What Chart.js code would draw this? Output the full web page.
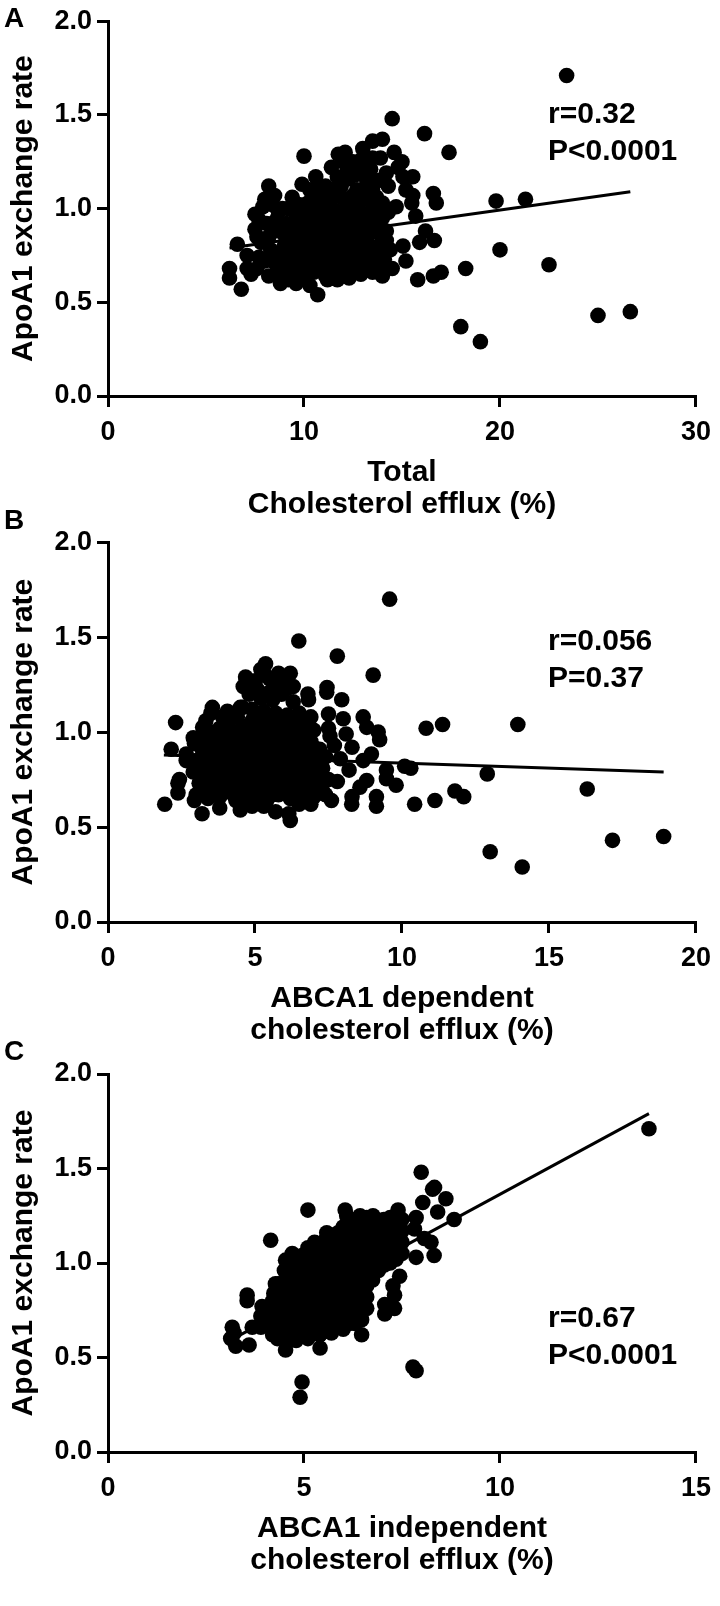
<!DOCTYPE html>
<html>
<head>
<meta charset="utf-8">
<title>ApoA1 exchange rate vs cholesterol efflux</title>
<script src="https://cdn.jsdelivr.net/npm/chart.js@4.4.1/dist/chart.umd.min.js"></script>
<style>
  html, body { margin: 0; padding: 0; background: #fff; }
  body { position: relative; width: 720px; height: 1606px; overflow: hidden;
         font-family: "Liberation Sans", Arial, Helvetica, sans-serif; font-weight: bold; color: #000; }
  canvas { position: absolute; left: 0; }
  .panel-letter { position: absolute; left: 4px; font-size: 28px; line-height: 28px; }
  .stats { position: absolute; left: 548px; font-size: 30px; line-height: 37px; white-space: nowrap; }
</style>
</head>
<body>
<canvas id="chartA"></canvas>
<canvas id="chartB"></canvas>
<canvas id="chartC"></canvas>
<div class="panel-letter" style="top:4px">A</div>
<div class="panel-letter" style="top:506px">B</div>
<div class="panel-letter" style="top:1037px">C</div>
<div class="stats" id="statsA" style="top:94px"></div>
<div class="stats" id="statsB" style="top:621px"></div>
<div class="stats" id="statsC" style="top:1298px"></div>
<script>
// Three stacked scatter panels: ApoA1 exchange rate against cholesterol efflux.

const yTicks = [0, 0.5, 1.0, 1.5, 2.0];
const xTicksA = [0, 10, 20, 30];
const xTicksB = [0, 5, 10, 15, 20];
const xTicksC = [0, 5, 10, 15];

const yTitle = 'ApoA1 exchange rate';
const xTitleA = ['Total', 'Cholesterol efflux (%)'];
const xTitleB = ['ABCA1 dependent', 'cholesterol efflux (%)'];
const xTitleC = ['ABCA1 independent', 'cholesterol efflux (%)'];

const statsA = ['r=0.32', 'P<0.0001'];
const statsB = ['r=0.056', 'P=0.37'];
const statsC = ['r=0.67', 'P<0.0001'];

// [total efflux %, exchange rate]
const totalEffluxPts = [
  [6.2,0.68],[6.2,0.63],[6.8,0.57],[6.6,0.81],[7.1,0.75],[7.5,0.97],[8.0,1.05],[8.2,1.12],[7.5,0.89],
  [7.1,0.68],[7.3,0.65],[8.2,0.64],[9.4,1.06],[9.9,1.13],[10.0,1.28],[10.6,1.17],[10.7,1.06],[9.2,0.62],
  [10.3,0.59],[10.7,0.54],[11.2,0.62],[11.4,1.22],[11.75,1.29],[12.1,1.30],[11.4,1.07],[12.4,0.68],
  [14.5,1.48],[16.15,1.40],[17.4,1.30],[13.5,1.36],[14.0,1.37],[13.9,1.27],[14.6,1.30],[15.0,1.25],
  [14.8,1.22],[15.55,1.17],[15.05,1.17],[15.2,1.10],[15.55,1.07],[15.5,1.03],[16.6,1.08],[16.75,1.03],
  [14.0,1.03],[14.7,1.01],[15.7,0.96],[16.2,0.88],[16.65,0.83],[15.9,0.82],[15.05,0.80],[15.2,0.72],
  [14.1,0.73],[15.8,0.62],[16.6,0.64],[17.0,0.66],[18.25,0.68],[19.8,1.04],[21.3,1.05],[20.0,0.78],
  [22.5,0.70],[23.4,1.71],[18.0,0.37],[19.0,0.29],[25.0,0.43],[26.65,0.45],[13.1,0.85],[13.45,0.75],
  [13.1,0.68],[7.6,0.85],[7.7,0.94],[7.9,1.01],
  [12.5,1.25],[12.9,1.20],[13.2,1.15],[12.3,1.16],[11.9,1.12],[12.7,1.10],[13.5,1.10],[13.8,1.15],
  [14.3,1.12],[14.2,1.19],[13.0,1.27],[12.2,1.22],[11.1,1.12],[10.3,1.10],[9.8,1.02],[10.2,1.03],
  [8.1,0.92],[8.5,0.88],[8.7,0.98],[8.3,0.78],[8.0,0.72],[8.8,0.70],[8.6,0.66],[9.0,0.80],[9.1,0.92],
  [8.9,1.00],[7.8,0.82],[7.7,0.74],[7.6,0.68],
  [9.3,0.65],[9.9,0.63],[10.5,0.66],[11.1,0.64],[11.7,0.62],[12.3,0.63],[12.9,0.65],[13.5,0.66],
  [9.4,0.71],[10.0,0.70],[10.6,0.72],[11.2,0.69],[11.8,0.71],[12.4,0.72],[13.0,0.70],[13.7,0.69],
  [9.2,0.77],[9.8,0.76],[10.4,0.78],[11.0,0.75],[11.6,0.77],[12.2,0.76],[12.8,0.78],[13.4,0.79],
  [9.5,0.83],[10.1,0.82],[10.7,0.84],[11.3,0.81],[11.9,0.83],[12.5,0.82],[13.2,0.84],[13.9,0.81],
  [9.3,0.89],[9.9,0.88],[10.5,0.90],[11.1,0.87],[11.7,0.89],[12.3,0.88],[12.9,0.90],[13.6,0.91],
  [9.6,0.95],[10.2,0.94],[10.8,0.96],[11.4,0.93],[12.0,0.95],[12.6,0.96],[13.3,0.97],[14.0,0.95],
  [10.4,1.00],[11.0,1.01],[11.6,0.99],[12.2,1.02],[12.8,1.03],[13.4,1.04],
  [14.2,0.88],[14.4,0.78],[14.5,0.68],[14.0,0.64],
  [9.6,0.68],[10.2,0.67],[10.8,0.69],[11.4,0.68],[12.0,0.67],[12.6,0.69],[13.2,0.68],
  [9.6,0.74],[10.2,0.73],[10.8,0.75],[11.4,0.74],[12.0,0.73],[12.6,0.75],[13.2,0.74],
  [9.6,0.80],[10.2,0.79],[10.8,0.81],[11.4,0.80],[12.0,0.79],[12.6,0.81],[13.2,0.80],
  [9.6,0.86],[10.2,0.85],[10.8,0.87],[11.4,0.86],[12.0,0.85],[12.6,0.87],[13.2,0.86],
  [9.6,0.92],[10.2,0.91],[10.8,0.93],[11.4,0.92],[12.0,0.91],[12.6,0.93],[13.2,0.92],
  [9.9,0.98],[10.5,0.97],[11.1,0.98],[11.7,0.96],[12.3,0.99],[12.9,0.98],[13.6,1.00],
  [13.9,0.75],[14.2,0.83],[13.8,0.87],[14.3,0.98],[13.9,0.70],
  [8.4,0.72],[8.2,0.85],[8.6,0.94],[9.0,0.86],[8.9,0.75],[8.4,1.02],[9.2,1.00],[8.5,1.07],[9.5,1.00],
  [9.0,0.64],[8.8,0.60],[9.6,0.60],
  [11.3,1.04],[11.9,1.06],[12.5,1.07],[13.1,1.08],[13.7,1.06],[11.7,1.17],[12.6,1.18],[13.4,1.21],
  [12.8,1.25],[11.5,1.10],[10.7,1.11],[10.9,1.00],[12.0,1.25],[13.5,1.27],[13.0,1.32],
];

// [ABCA1 dependent efflux %, exchange rate]
const abca1DepPts = [
  [1.93,0.62],[2.3,1.05],[2.15,0.91],[2.66,0.885],[2.9,0.97],[2.43,0.75],[2.38,0.68],[3.2,0.57],
  [2.94,0.64],[3.33,1.06],[3.55,1.13],[4.06,1.11],[4.57,1.13],[4.68,1.29],[5.0,1.27],[5.36,1.36],
  [6.2,1.31],[6.49,1.48],[7.8,1.40],[7.45,1.235],[7.95,1.17],[6.8,1.20],[6.15,0.57],[6.2,0.535],
  [3.45,0.66],[4.35,0.64],[4.9,0.61],[6.5,0.62],[8.3,0.66],[7.3,0.69],[7.5,1.02],
  [9.58,1.70],[9.02,1.30],[8.68,1.08],[8.8,1.025],[9.19,1.0],[9.24,0.96],[10.82,1.02],[11.38,1.04],
  [13.94,1.04],[8.96,0.885],[8.68,0.85],[9.47,0.80],[10.09,0.82],[10.3,0.81],[8.8,0.745],[8.57,0.71],
  [9.8,0.72],[9.13,0.66],[10.43,0.62],[11.12,0.64],[11.8,0.69],[12.1,0.66],[12.9,0.78],[16.3,0.70],
  [13.0,0.37],[14.09,0.29],[17.16,0.43],[18.9,0.45],
  [6.82,1.17],[7.44,1.21],[3.5,1.10],[3.22,1.025],[2.94,0.94],[2.66,0.85],[7.5,1.095],[8.0,1.07],
  [7.55,0.98],[9.47,0.755],[9.13,0.61],[8.29,0.62],[2.38,0.73],
  [4.7,1.28],[5.0,1.25],[5.35,1.30],[5.7,1.26],[6.0,1.28],[6.3,1.24],[5.2,1.18],[5.6,1.17],[5.9,1.20],
  [6.3,1.16],[4.8,1.20],[4.5,1.13],[4.9,1.12],[5.3,1.11],[5.7,1.10],[6.1,1.09],[6.5,1.10],[6.9,1.08],
  [4.1,1.05],[3.8,1.02],[3.5,1.00],
  [3.8,0.60],[4.5,0.59],[5.3,0.61],[5.7,0.58],[6.9,0.62],[7.6,0.64],
  [7.8,0.74],[8.2,0.80],[7.9,0.86],[8.3,0.92],[7.7,0.93],[8.1,0.99],
  [3.0,0.67],[3.4,0.65],[3.8,0.66],[4.2,0.68],[4.6,0.65],[5.0,0.66],[5.4,0.64],[5.8,0.67],[6.2,0.65],
  [6.6,0.68],[7.0,0.66],[7.4,0.67],
  [3.1,0.73],[3.5,0.71],[3.9,0.72],[4.3,0.74],[4.7,0.71],[5.1,0.73],[5.5,0.70],[5.9,0.72],[6.3,0.74],
  [6.7,0.71],[7.1,0.73],[7.5,0.75],
  [2.9,0.79],[3.3,0.77],[3.7,0.78],[4.1,0.80],[4.5,0.77],[4.9,0.79],[5.3,0.76],[5.7,0.78],[6.1,0.80],
  [6.5,0.77],[6.9,0.79],[7.3,0.81],
  [3.0,0.85],[3.4,0.83],[3.8,0.84],[4.2,0.86],[4.6,0.83],[5.0,0.85],[5.4,0.82],[5.8,0.84],[6.2,0.86],
  [6.6,0.83],[7.0,0.85],[7.4,0.87],
  [3.2,0.91],[3.6,0.89],[4.0,0.90],[4.4,0.92],[4.8,0.89],[5.2,0.91],[5.6,0.88],[6.0,0.90],[6.4,0.92],
  [6.8,0.89],[7.2,0.91],
  [3.3,0.97],[3.7,0.95],[4.1,0.96],[4.5,0.98],[4.9,0.95],[5.3,0.97],[5.7,0.94],[6.1,0.96],[6.5,0.98],
  [6.9,0.95],
  [4.6,1.03],[5.0,1.01],[5.4,1.04],[5.8,1.00],[6.2,1.02],[6.6,1.04],[7.0,1.01],
  [3.2,0.69],[3.6,0.68],[4.0,0.70],[4.4,0.69],[4.8,0.68],[5.2,0.70],[5.6,0.67],[6.0,0.69],[6.4,0.70],
  [6.8,0.68],[7.2,0.70],
  [3.2,0.75],[3.6,0.74],[4.0,0.76],[4.4,0.75],[4.8,0.74],[5.2,0.76],[5.6,0.73],[6.0,0.75],[6.4,0.76],
  [6.8,0.74],[7.2,0.76],
  [3.2,0.81],[3.6,0.80],[4.0,0.82],[4.4,0.81],[4.8,0.80],[5.2,0.82],[5.6,0.79],[6.0,0.81],[6.4,0.82],
  [6.8,0.80],[7.2,0.82],
  [3.2,0.87],[3.6,0.86],[4.0,0.88],[4.4,0.87],[4.8,0.86],[5.2,0.88],[5.6,0.85],[6.0,0.87],[6.4,0.88],
  [6.8,0.86],[7.2,0.88],
  [3.4,0.93],[3.8,0.92],[4.2,0.94],[4.6,0.93],[5.0,0.92],[5.4,0.94],[5.8,0.91],[6.2,0.93],[6.6,0.94],
  [7.0,0.92],
  [3.9,0.99],[4.3,1.00],[4.7,0.99],[5.1,0.98],[5.5,1.00],[5.9,0.97],[6.3,0.99],[6.7,1.00],
  [4.9,1.06],[5.2,1.07],[5.6,1.06],[6.0,1.05],[6.4,1.06],[6.8,1.04],[5.1,1.22],[5.5,1.21],[5.8,1.31],
  [5.2,1.33],[6.1,1.23],[4.6,1.24],[5.5,1.28],[4.4,1.08],[3.9,1.08],
];

// [ABCA1 independent efflux %, exchange rate]
const abca1IndepPts = [
  [3.17,0.66],[3.22,0.63],[3.6,0.566],[3.55,0.83],[3.55,0.80],[4.15,1.12],[4.27,0.89],[4.53,0.54],
  [4.32,0.60],[4.95,0.37],[4.9,0.29],[5.1,1.28],[4.7,1.05],[4.53,1.015],[3.68,0.66],[3.93,0.77],
  [5.2,1.0],[5.58,1.16],[6.05,1.28],[5.4,0.62],[4.86,0.66],
  [7.99,1.48],[8.28,1.39],[8.03,1.32],[8.62,1.34],[8.41,1.27],[8.83,1.23],[8.32,1.04],[8.24,1.11],
  [7.86,1.24],[7.82,1.18],[7.4,1.28],[6.76,1.25],[6.09,1.25],[5.62,1.13],[5.87,1.16],[6.5,1.12],
  [6.76,1.09],[7.35,1.15],[8.07,1.13],[7.86,1.03],[7.44,0.93],[7.31,0.83],[7.31,0.76],[7.06,0.73],
  [7.27,0.88],[7.06,0.78],[6.47,0.70],[4.78,1.015],[4.57,0.97],[4.23,0.84],[3.13,0.60],[3.26,0.56],
  [5.41,0.55],[6.47,0.62],[7.78,0.45],[7.86,0.43],[13.8,1.71],[8.33,1.40],
  [3.9,0.66],[3.9,0.72],
  [4.2,0.62],[4.2,0.68],[4.2,0.74],[4.2,0.80],
  [4.5,0.60],[4.5,0.66],[4.5,0.72],[4.5,0.78],[4.5,0.84],[4.5,0.90],[4.5,0.96],
  [4.8,0.59],[4.8,0.65],[4.8,0.71],[4.8,0.77],[4.8,0.83],[4.8,0.89],[4.8,0.95],[4.8,1.01],
  [5.1,0.60],[5.1,0.66],[5.1,0.72],[5.1,0.78],[5.1,0.84],[5.1,0.90],[5.1,0.96],[5.1,1.02],[5.1,1.08],
  [5.4,0.62],[5.4,0.68],[5.4,0.74],[5.4,0.80],[5.4,0.86],[5.4,0.92],[5.4,0.98],[5.4,1.04],[5.4,1.10],
  [5.7,0.63],[5.7,0.69],[5.7,0.75],[5.7,0.81],[5.7,0.87],[5.7,0.93],[5.7,0.99],[5.7,1.05],[5.7,1.11],
  [6.0,0.65],[6.0,0.71],[6.0,0.77],[6.0,0.83],[6.0,0.89],[6.0,0.95],[6.0,1.01],[6.0,1.07],[6.0,1.13],
  [6.0,1.19],
  [6.3,0.68],[6.3,0.74],[6.3,0.80],[6.3,0.86],[6.3,0.92],[6.3,0.98],[6.3,1.04],[6.3,1.10],[6.3,1.16],
  [6.3,1.22],
  [6.6,0.76],[6.6,0.82],[6.6,0.88],[6.6,0.94],[6.6,1.00],[6.6,1.06],[6.6,1.12],[6.6,1.18],[6.6,1.24],
  [6.9,0.96],[6.9,1.02],[6.9,1.08],[6.9,1.14],[6.9,1.20],
  [7.2,1.00],[7.2,1.06],[7.2,1.12],[7.2,1.18],[7.2,1.24],
  [7.5,1.05],[7.5,1.11],[7.5,1.17],[7.5,1.23],
  [4.35,0.65],[4.38,0.71],[4.33,0.77],[4.36,0.83],[4.34,0.89],
  [4.65,0.63],[4.68,0.69],[4.63,0.75],[4.66,0.81],[4.64,0.87],[4.67,0.93],[4.62,0.99],
  [4.95,0.62],[4.97,0.68],[4.93,0.74],[4.96,0.80],[4.94,0.86],[4.98,0.92],[4.92,0.98],[4.95,1.04],
  [5.25,0.63],[5.27,0.69],[5.23,0.75],[5.26,0.81],[5.24,0.87],[5.28,0.93],[5.22,0.99],[5.25,1.05],
  [5.27,1.11],
  [5.55,0.65],[5.57,0.71],[5.53,0.77],[5.56,0.83],[5.54,0.89],[5.58,0.95],[5.52,1.01],[5.55,1.07],
  [5.57,1.13],
  [5.85,0.66],[5.87,0.72],[5.83,0.78],[5.86,0.84],[5.84,0.90],[5.88,0.96],[5.82,1.02],[5.85,1.08],
  [5.87,1.14],
  [6.15,0.68],[6.17,0.74],[6.13,0.80],[6.16,0.86],[6.14,0.92],[6.18,0.98],[6.12,1.04],[6.15,1.10],
  [6.17,1.16],[6.13,1.22],
  [6.45,0.71],[6.47,0.77],[6.43,0.83],[6.46,0.89],[6.44,0.95],[6.48,1.01],[6.42,1.07],[6.45,1.13],
  [6.47,1.19],[6.43,1.25],
  [6.75,0.91],[6.77,0.97],[6.73,1.03],[6.76,1.09],[6.74,1.15],[6.78,1.21],
  [7.05,0.99],[7.07,1.05],[7.03,1.11],[7.06,1.17],[7.04,1.23],
  [7.35,1.02],[7.37,1.08],[7.33,1.14],[7.36,1.20],
];

// Linear fit end points [x, y]
const fitA = [[6.2, 0.79], [26.65, 1.09]];
const fitB = [[1.9, 0.88], [18.9, 0.79]];
const fitC = [[3.2, 0.60], [13.8, 1.79]];

const PANELS = [
  { id: 'chartA', statsId: 'statsA', top: 0, height: 521, padTop: 14,
    points: totalEffluxPts, fit: fitA, xTicks: xTicksA, xTitle: xTitleA, stats: statsA },
  { id: 'chartB', statsId: 'statsB', top: 521, height: 526, padTop: 20,
    points: abca1DepPts, fit: fitB, xTicks: xTicksB, xTitle: xTitleB, stats: statsB },
  { id: 'chartC', statsId: 'statsC', top: 1047, height: 530, padTop: 27,
    points: abca1IndepPts, fit: fitC, xTicks: xTicksC, xTitle: xTitleC, stats: statsC },
];

const FONT_FAMILY = '"Liberation Sans", Arial, Helvetica, sans-serif';
const AXIS_W = 108;      // y-axis box width -> plot starts at x=108
const X_AXIS_H = 125;    // x-axis box height under the plot
const PLOT_RIGHT_PAD = 20;

const tickFont = { family: FONT_FAMILY, size: 27, weight: 'bold' };
const titleFont = { family: FONT_FAMILY, size: 30, weight: 'bold', lineHeight: 32 / 30 };

// Tick marks only (outside), no gridlines in the plot.
const axisGrid = { display: true, drawOnChartArea: false, drawTicks: true, tickLength: 11, lineWidth: 3, color: '#000' };
const axisBorder = { display: true, width: 3, color: '#000' };

function toXY(pairs) {
  return pairs.map(([x, y]) => ({ x, y }));
}

function fixedTicks(values) {
  return (scale) => { scale.ticks = values.map((value) => ({ value })); };
}

function buildPanel(cfg) {
  const canvas = document.getElementById(cfg.id);
  canvas.width = 720;
  canvas.height = cfg.height;
  canvas.style.top = `${cfg.top}px`;
  canvas.style.width = '720px';
  canvas.style.height = `${cfg.height}px`;

  document.getElementById(cfg.statsId).innerHTML = cfg.stats.join('<br>');

  return new Chart(canvas.getContext('2d'), {
    type: 'scatter',
    data: {
      datasets: [
        {
          label: 'samples',
          data: toXY(cfg.points),
          pointRadius: 7.8,
          pointBackgroundColor: '#000',
          pointBorderWidth: 0,
          showLine: false,
        },
        {
          type: 'line',
          label: 'fit',
          data: toXY(cfg.fit),
          borderColor: '#000',
          borderWidth: 3,
          pointRadius: 0,
          fill: false,
          tension: 0,
        },
      ],
    },
    options: {
      responsive: false,
      animation: false,
      devicePixelRatio: 1,
      layout: { autoPadding: false, padding: { left: 0, right: PLOT_RIGHT_PAD, top: cfg.padTop, bottom: 0 } },
      plugins: { legend: { display: false }, tooltip: { enabled: false } },
      scales: {
        x: {
          type: 'linear',
          min: cfg.xTicks[0],
          max: cfg.xTicks[cfg.xTicks.length - 1],
          afterBuildTicks: fixedTicks(cfg.xTicks),
          afterFit: (s) => { s.height = X_AXIS_H; },
          grid: axisGrid,
          border: axisBorder,
          ticks: { font: tickFont, color: '#000', padding: 9, maxRotation: 0, callback: (v) => String(v) },
          title: { display: true, text: cfg.xTitle, font: titleFont, color: '#000', padding: { top: 0, bottom: 0 } },
        },
        y: {
          type: 'linear',
          min: yTicks[0],
          max: yTicks[yTicks.length - 1],
          afterBuildTicks: fixedTicks(yTicks),
          afterFit: (s) => { s.width = AXIS_W; },
          grid: axisGrid,
          border: axisBorder,
          ticks: { font: tickFont, color: '#000', padding: 5, callback: (v) => v.toFixed(1) },
          title: { display: true, text: yTitle, font: titleFont, color: '#000', padding: { top: 8, bottom: 0 } },
        },
      },
    },
  });
}

PANELS.forEach(buildPanel);
</script>
</body>
</html>
